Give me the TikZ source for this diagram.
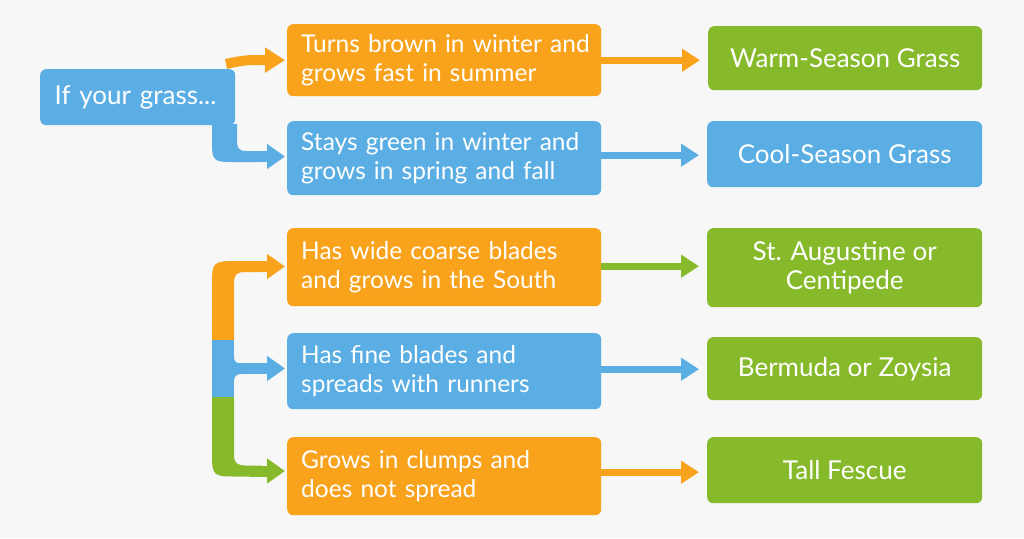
\documentclass[tikz,border=0pt]{standalone}
\usepackage{fontspec}
\setmainfont{Lato}
\usetikzlibrary{arrows.meta}
\definecolor{bgc}{HTML}{F7F7F7}
\definecolor{orc}{HTML}{F9A31C}
\definecolor{blc}{HTML}{5BAEE4}
\definecolor{grc}{HTML}{86BA2B}
\tikzset{
  box/.style={rounded corners=6pt, text=white, inner sep=0pt, anchor=north west},
  qbox/.style={box, align=left, minimum width=314pt, text width=286pt, font=\fontsize{24.5}{29}\selectfont},
  rbox/.style={box, align=center, minimum width=275pt, font=\fontsize{26}{29}\selectfont},
  thinarrow/.style={line width=7pt, shorten >=8pt, -{Triangle[length=18pt,width=22pt]}},
  headarrow/.style={line width=11pt, shorten >=2pt, -{Triangle[length=18pt,width=24pt]}},
}
\begin{document}
\begin{tikzpicture}[x=1pt,y=-1pt]
\fill[bgc] (0,0) rectangle (1024,538);
\useasboundingbox (0,0) rectangle (1024,538);
% start node
\node[box, fill=blc, minimum width=195pt, minimum height=56pt, align=left, text width=166pt, font=\fontsize{26}{30}\selectfont] (start) at (40,69) {\mbox{If your grass...}};
% question nodes
\node[qbox, fill=orc, minimum height=72pt] (q1) at (287,24) {\mbox{Turns brown in winter and}\\\mbox{grows fast in summer}};
\node[qbox, fill=blc, minimum height=74pt] (q2) at (287,121) {\mbox{Stays green in winter and}\\\mbox{grows in spring and fall}};
\node[qbox, fill=orc, minimum height=78pt] (q3) at (287,228) {Has wide coarse blades\\and grows in the South};
\node[qbox, fill=blc, minimum height=76pt] (q4) at (287,333) {Has fine blades and\\spreads with runners};
\node[qbox, fill=orc, minimum height=78pt] (q5) at (287,437) {Grows in clumps and\\does not spread};
% result nodes
\node[rbox, fill=grc, minimum width=274pt, minimum height=64pt] (r1) at (708,26) {Warm-Season Grass};
\node[rbox, fill=blc, minimum height=66pt] (r2) at (707,121) {Cool-Season Grass};
\node[rbox, fill=grc, minimum height=79pt] (r3) at (707,228) {St. Augustine or\\Centipede};
\node[rbox, fill=grc, minimum height=63pt] (r4) at (707,337) {Bermuda or Zoysia};
\node[rbox, fill=grc, minimum height=66pt] (r5) at (707,437) {Tall Fescue};
% right arrows
\coordinate (a2) at ([yshift=3pt]q2.east);
\coordinate (a3) at ([yshift=1pt]q3.east);
\coordinate (a4) at ([yshift=2pt]q4.east);
\coordinate (a5) at ([yshift=4pt]q5.east);
\draw[thinarrow, orc] (q1.east) -- (r1.west |- q1.east);
\draw[thinarrow, blc] (a2) -- (r2.west |- a2);
\draw[thinarrow, grc] (a3) -- (r3.west |- a3);
\draw[thinarrow, blc] (a4) -- (r4.west |- a4);
\draw[thinarrow, orc] (a5) -- (r5.west |- a5);
% arrows from start
\coordinate (s1) at (226,64);
\draw[orc, line width=10pt, shorten >=2pt, -{Triangle[length=20pt,width=24pt]}] (s1) .. controls (245,60) .. (q1.west);
\fill[blc] (212,124) -- (212,145) .. controls (212,160) and (215,162) .. (230,162) -- (262,162) -- (262,151) -- (246,151) .. controls (239,151) and (237,148) .. (237,141) -- (237,124) -- cycle;
\coordinate (s2) at (250,156.5);
\draw[headarrow, blc] (s2) -- (q2.west |- s2);
% bracket
\fill[orc] (212,340) -- (212,282) .. controls (212,263) and (214,261) .. (234,261) -- (262,261) -- (262,272) -- (246,272) .. controls (237,272) and (234,274) .. (234,283) -- (234,340) -- cycle;
\fill[blc] (212,340) rectangle (234,397);
\fill[blc] (234,356) .. controls (234,362) and (236,363.5) .. (242,363.5) -- (242,374) .. controls (236,374) and (234,376) .. (234,382) -- cycle;
\fill[grc] (212,397) -- (212,456) .. controls (212,475) and (214,476.5) .. (234,476.5) -- (262,476.5) -- (262,465.5) -- (246,465.5) .. controls (237,465.5) and (234,463) .. (234,455) -- (234,397) -- cycle;
\coordinate (o1) at (250,266.5);
\coordinate (m1) at (238,368.5);
\coordinate (g1) at (250,471);
\draw[headarrow, orc] (o1) -- (q3.west |- o1);
\draw[headarrow, blc] (m1) -- (q4.west |- m1);
\draw[headarrow, grc] (g1) -- (q5.west |- g1);
\end{tikzpicture}
\end{document}
